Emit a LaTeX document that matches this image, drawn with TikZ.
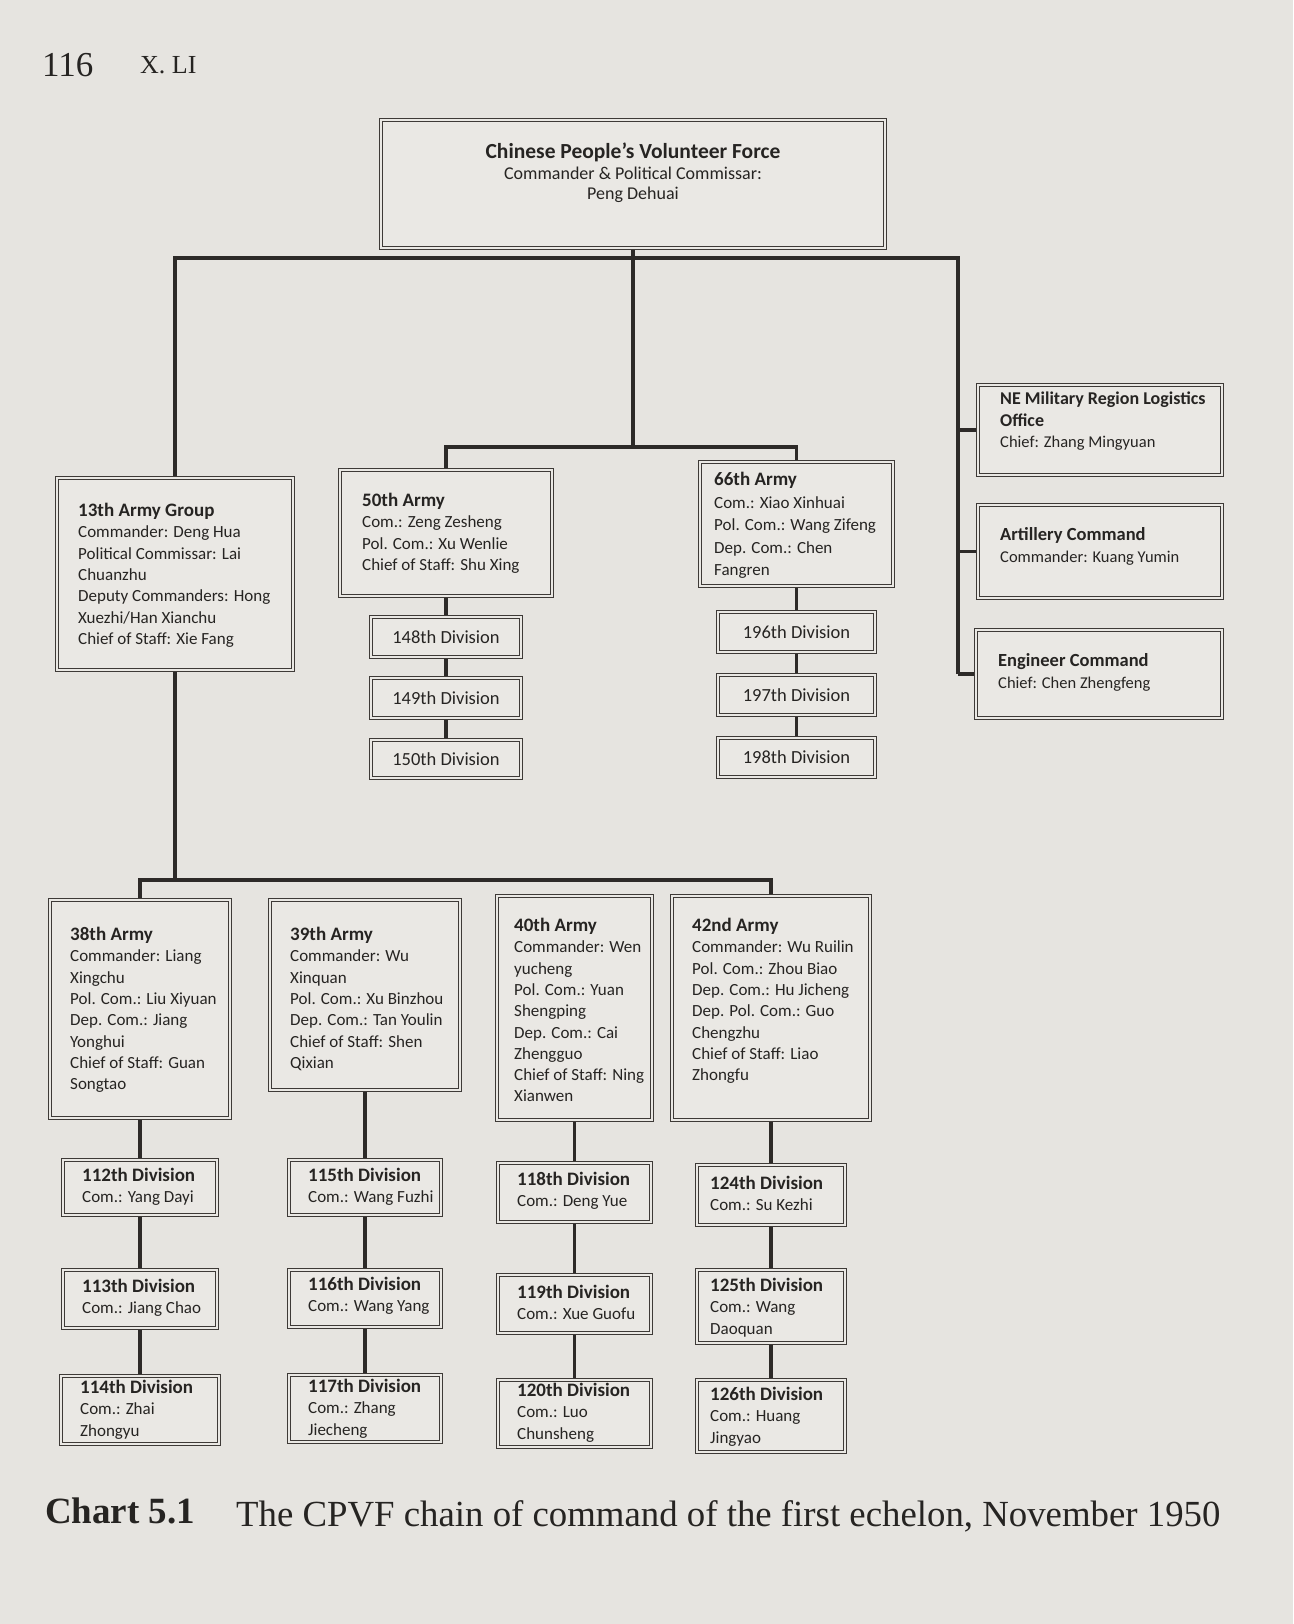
\documentclass[tikz,border=0pt]{standalone}
\usepackage{fontspec}
\setmainfont{Carlito}
\newfontfamily\bookserif{Liberation Serif}
\usetikzlibrary{backgrounds}
\definecolor{paper}{RGB}{230,228,224}
\definecolor{paperin}{RGB}{234,232,228}
\definecolor{boxc}{RGB}{62,58,55}
\definecolor{linec}{RGB}{45,42,40}
\definecolor{txtc}{RGB}{38,36,34}
\newcommand{\bodyf}{\fontsize{17}{21.3}\selectfont}
\newcommand{\ttl}[1]{{\fontsize{19}{21.3}\selectfont\bfseries #1}}
\newcommand{\mybox}[6]{\node[#1, minimum width={#5pt-#3pt}, minimum height={#6pt-#4pt}] (#2) at ({(#3+#5)/2},{(#4+#6)/2}) {};}
\tikzset{
  bigbox/.style={draw=boxc, double=paperin, double distance=2.6pt, line width=1.1pt, fill=paperin, inner sep=0pt},
  divbox/.style={draw=boxc, double=paperin, double distance=1.2pt, line width=1.5pt, fill=paperin, inner sep=0pt},
  conn/.style={draw=linec, line width=3.3pt},
  txt/.style={inner sep=0pt, align=left, anchor=north west, text=txtc, font=\bodyf},
  divtxt/.style={inner sep=0pt, anchor=center, text=txtc, font=\fontsize{18.5}{21}\selectfont},
}
\begin{document}
\begin{tikzpicture}[x=1pt,y=-1pt]
\begin{pgfonlayer}{background}
\fill[paper] (0,0) rectangle (1293,1624);
\end{pgfonlayer}
\useasboundingbox (0,0) rectangle (1293,1624);

% header
\node[anchor=base west, inner sep=0pt, text=txtc, font=\bookserif\fontsize{35}{40}\selectfont] (pgnum) at (42,77) {116};
\node[anchor=base west, inner sep=0pt, text=txtc, font=\bookserif\fontsize{26}{30}\selectfont] (runhead) at (140,74) {X. LI};

% boxes
\mybox{bigbox}{top}{381}{120}{885}{248}
\mybox{bigbox}{g13}{57}{478}{293}{670}
\mybox{bigbox}{a50}{340}{470}{552}{596}
\mybox{bigbox}{a66}{700}{462}{893}{586}
\mybox{divbox}{d148}{371}{617}{521}{657}
\mybox{divbox}{d149}{371}{678}{521}{718}
\mybox{divbox}{d150}{371}{740}{521}{778}
\mybox{divbox}{d196}{718}{612}{875}{652}
\mybox{divbox}{d197}{718}{675}{875}{715}
\mybox{divbox}{d198}{718}{738}{875}{777}
\mybox{bigbox}{ne}{978}{385}{1222}{475}
\mybox{bigbox}{art}{978}{505}{1222}{598}
\mybox{bigbox}{eng}{976}{630}{1222}{718}
\mybox{bigbox}{a38}{50}{900}{230}{1118}
\mybox{bigbox}{a39}{270}{900}{460}{1090}
\mybox{bigbox}{a40}{497}{896}{652}{1120}
\mybox{bigbox}{a42}{672}{896}{870}{1120}
\mybox{divbox}{d112}{63}{1160}{217}{1215}
\mybox{divbox}{d113}{63}{1270}{217}{1328}
\mybox{divbox}{d114}{61}{1376}{219}{1444}
\mybox{divbox}{d115}{289}{1160}{441}{1215}
\mybox{divbox}{d116}{289}{1270}{441}{1327}
\mybox{divbox}{d117}{289}{1375}{441}{1442}
\mybox{divbox}{d118}{498}{1163}{651}{1222}
\mybox{divbox}{d119}{498}{1275}{651}{1333}
\mybox{divbox}{d120}{498}{1380}{651}{1447}
\mybox{divbox}{d124}{697}{1165}{845}{1225}
\mybox{divbox}{d125}{697}{1270}{845}{1343}
\mybox{divbox}{d126}{697}{1380}{845}{1452}

% texts
\node[txt, anchor=north, align=center, font=\fontsize{18}{20.5}\selectfont] (topt) at (633,143)
  {{\fontsize{21.5}{20.5}\selectfont\bfseries Chinese People’s Volunteer Force}\\ Commander \& Political Commissar:\\ Peng Dehuai};
\node[txt] (g13t) at (78,503) {\ttl{13th Army Group}\\ Commander: Deng Hua\\ Political Commissar: Lai\\ Chuanzhu\\ Deputy Commanders: Hong\\ Xuezhi/Han Xianchu\\ Chief of Staff: Xie Fang};
\node[txt] (a50t) at (362,493) {\ttl{50th Army}\\ Com.: Zeng Zesheng\\ Pol. Com.: Xu Wenlie\\ Chief of Staff: Shu Xing};
\node[txt, font=\fontsize{17}{22.5}\selectfont] (a66t) at (714,472) {{\fontsize{19}{22.5}\selectfont\bfseries 66th Army}\\ Com.: Xiao Xinhuai\\ Pol. Com.: Wang Zifeng\\ Dep. Com.: Chen\\ Fangren};
\node[divtxt] (d148t) at (d148) {148th Division};
\node[divtxt] (d149t) at (d149) {149th Division};
\node[divtxt] (d150t) at (d150) {150th Division};
\node[divtxt] (d196t) at (d196) {196th Division};
\node[divtxt] (d197t) at (d197) {197th Division};
\node[divtxt] (d198t) at (d198) {198th Division};
\node[txt, font=\fontsize{16.5}{21.5}\selectfont] (net) at (1000,392) {{\fontsize{18}{20}\selectfont\bfseries NE Military Region Logistics}\\ {\fontsize{18}{20}\selectfont\bfseries Office}\\ Chief: Zhang Mingyuan};
\node[txt, font=\fontsize{16.5}{22}\selectfont] (artt) at (1000,527) {{\fontsize{18.5}{22}\selectfont\bfseries Artillery Command}\\ Commander: Kuang Yumin};
\node[txt, font=\fontsize{16.5}{22}\selectfont] (engt) at (998,653) {{\fontsize{18.5}{22}\selectfont\bfseries Engineer Command}\\ Chief: Chen Zhengfeng};
\node[txt] (a38t) at (70,927) {\ttl{38th Army}\\ Commander: Liang\\ Xingchu\\ Pol. Com.: Liu Xiyuan\\ Dep. Com.: Jiang\\ Yonghui\\ Chief of Staff: Guan\\ Songtao};
\node[txt] (a39t) at (290,927) {\ttl{39th Army}\\ Commander: Wu\\ Xinquan\\ Pol. Com.: Xu Binzhou\\ Dep. Com.: Tan Youlin\\ Chief of Staff: Shen\\ Qixian};
\node[txt] (a40t) at (514,918) {\ttl{40th Army}\\ Commander: Wen\\ yucheng\\ Pol. Com.: Yuan\\ Shengping\\ Dep. Com.: Cai\\ Zhengguo\\ Chief of Staff: Ning\\ Xianwen};
\node[txt] (a42t) at (692,918) {\ttl{42nd Army}\\ Commander: Wu Ruilin\\ Pol. Com.: Zhou Biao\\ Dep. Com.: Hu Jicheng\\ Dep. Pol. Com.: Guo\\ Chengzhu\\ Chief of Staff: Liao\\ Zhongfu};
\node[txt] (d112t) at (82,1168) {\ttl{112th Division}\\ Com.: Yang Dayi};
\node[txt] (d113t) at (82,1279) {\ttl{113th Division}\\ Com.: Jiang Chao};
\node[txt] (d114t) at (80,1380) {\ttl{114th Division}\\ Com.: Zhai\\ Zhongyu};
\node[txt] (d115t) at (308,1168) {\ttl{115th Division}\\ Com.: Wang Fuzhi};
\node[txt] (d116t) at (308,1277) {\ttl{116th Division}\\ Com.: Wang Yang};
\node[txt] (d117t) at (308,1379) {\ttl{117th Division}\\ Com.: Zhang\\ Jiecheng};
\node[txt] (d118t) at (517,1172) {\ttl{118th Division}\\ Com.: Deng Yue};
\node[txt] (d119t) at (517,1285) {\ttl{119th Division}\\ Com.: Xue Guofu};
\node[txt] (d120t) at (517,1383) {\ttl{120th Division}\\ Com.: Luo\\ Chunsheng};
\node[txt] (d124t) at (710,1176) {\ttl{124th Division}\\ Com.: Su Kezhi};
\node[txt] (d125t) at (710,1278) {\ttl{125th Division}\\ Com.: Wang\\ Daoquan};
\node[txt] (d126t) at (710,1387) {\ttl{126th Division}\\ Com.: Huang\\ Jingyao};

% caption
\node[anchor=base west, inner sep=0pt, text=txtc, font=\bookserif\bfseries\fontsize{37}{40}\selectfont] (capa) at (45,1523) {Chart 5.1};
\node[anchor=base west, inner sep=0pt, text=txtc, font=\bookserif\fontsize{36.8}{40}\selectfont] (capb) at (236,1526) {The CPVF chain of command of the first echelon, November 1950};

% connectors
\coordinate (hC) at (633,258);
\coordinate (hR) at (958,258);
\coordinate (mid) at (633,447);
\coordinate (low) at (175,880);
\begin{pgfonlayer}{background}
\draw[conn] (top.south) -- (mid);
\draw[conn] (g13.north) -- (g13.north |- hC) -- (hR) -- (hR |- eng.west);
\draw[conn] (hR |- ne.west) -- (ne.west);
\draw[conn] (hR |- art.west) -- (art.west);
\draw[conn] (hR |- eng.west) -- (eng.west);
\draw[conn] (a50.north) -- (a50.north |- mid) -- (a66.north |- mid) -- (a66.north);
\draw[conn] (a50.south) -- (d148.north);
\draw[conn] (d148.south) -- (d149.north);
\draw[conn] (d149.south) -- (d150.north);
\draw[conn] (a66.south) -- (d196.north);
\draw[conn] (d196.south) -- (d197.north);
\draw[conn] (d197.south) -- (d198.north);
\draw[conn] (g13.south) -- (low);
\draw[conn] (a38.north) -- (a38.north |- low) -- (a42.north |- low) -- (a42.north);
\draw[conn] (a38.south) -- (d112.north);
\draw[conn] (d112.south) -- (d113.north);
\draw[conn] (d113.south) -- (d114.north);
\draw[conn] (a39.south) -- (d115.north);
\draw[conn] (d115.south) -- (d116.north);
\draw[conn] (d116.south) -- (d117.north);
\draw[conn] (a40.south) -- (d118.north);
\draw[conn] (d118.south) -- (d119.north);
\draw[conn] (d119.south) -- (d120.north);
\draw[conn] (a42.south) -- (d124.north);
\draw[conn] (d124.south) -- (d125.north);
\draw[conn] (d125.south) -- (d126.north);
\end{pgfonlayer}
\end{tikzpicture}
\end{document}
